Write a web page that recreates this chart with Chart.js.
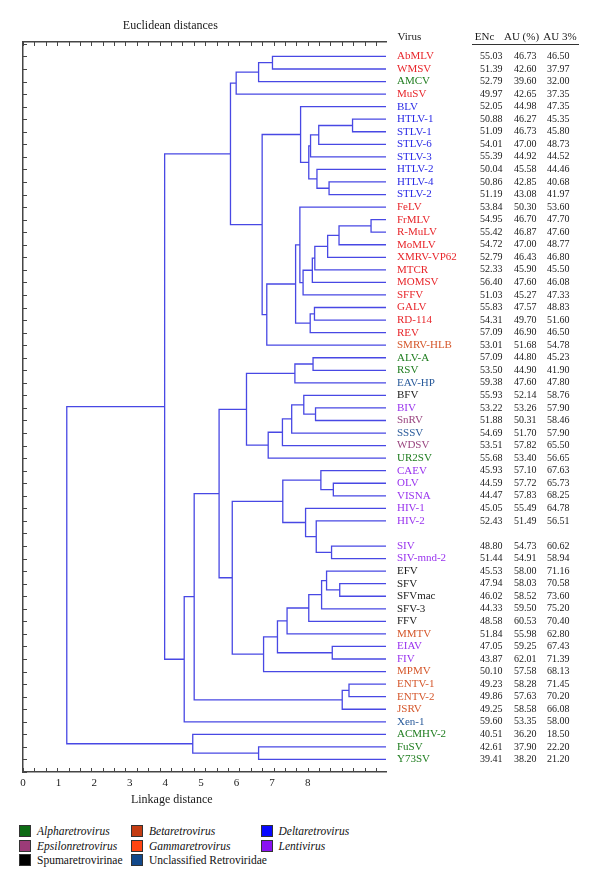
<!DOCTYPE html>
<html>
<head>
<meta charset="utf-8">
<script src="https://cdn.jsdelivr.net/npm/chart.js@4.4.0/dist/chart.umd.min.js"></script>
<style>
  html, body { margin: 0; padding: 0; background: #fff; }
  #wrap { position: relative; width: 600px; height: 890px; }
  #chartBox { position: absolute; left: 0; top: 0; width: 600px; height: 812px; }
  #legend { position: absolute; left: 0; top: 824px; width: 600px; height: 50px;
            font-family: "Liberation Serif", serif; font-size: 11.5px; color: #111; }
  .item { position: absolute; height: 14px; line-height: 14px; white-space: nowrap; }
  .item i { font-style: italic; }
  .sw { display: inline-block; width: 10px; height: 10px; border: 1px solid #333;
        vertical-align: -2px; margin-right: 6px; }
</style>
</head>
<body>
<div id="wrap">
  <div id="chartBox"><canvas id="tree"></canvas></div>
  <div id="legend"></div>
</div>
<script>
// leaves, top to bottom
const viruses = ['AbMLV', 'WMSV', 'AMCV', 'MuSV', 'BLV', 'HTLV-1', 'STLV-1', 'STLV-6', 'STLV-3',
  'HTLV-2', 'HTLV-4', 'STLV-2', 'FeLV', 'FrMLV', 'R-MuLV', 'MoMLV', 'XMRV-VP62', 'MTCR', 'MOMSV',
  'SFFV', 'GALV', 'RD-114', 'REV', 'SMRV-HLB', 'ALV-A', 'RSV', 'EAV-HP', 'BFV', 'BIV', 'SnRV',
  'SSSV', 'WDSV', 'UR2SV', 'CAEV', 'OLV', 'VISNA', 'HIV-1', 'HIV-2', 'SIV', 'SIV-mnd-2', 'EFV',
  'SFV', 'SFVmac', 'SFV-3', 'FFV', 'MMTV', 'EIAV', 'FIV', 'MPMV', 'ENTV-1', 'ENTV-2', 'JSRV',
  'Xen-1', 'ACMHV-2', 'FuSV', 'Y73SV'];

// row of each leaf (row 38 is left empty in the figure)
const rows = [0, 1, 2, 3, 4, 5, 6, 7, 8, 9, 10, 11, 12, 13, 14, 15, 16, 17, 18, 19, 20, 21, 22,
  23, 24, 25, 26, 27, 28, 29, 30, 31, 32, 33, 34, 35, 36, 37, 39, 40, 41, 42, 43, 44, 45, 46, 47,
  48, 49, 50, 51, 52, 53, 54, 55, 56];

const families = ['gamma', 'gamma', 'alpha', 'gamma', 'delta', 'delta', 'delta', 'delta', 'delta',
  'delta', 'delta', 'delta', 'gamma', 'gamma', 'gamma', 'gamma', 'gamma', 'gamma', 'gamma',
  'gamma', 'gamma', 'gamma', 'gamma', 'beta', 'alpha', 'alpha', 'uncl', 'spuma', 'lenti', 'epsilon',
  'uncl', 'epsilon', 'alpha', 'lenti', 'lenti', 'lenti', 'lenti', 'lenti', 'lenti', 'lenti', 'spuma',
  'spuma', 'spuma', 'spuma', 'spuma', 'beta', 'lenti', 'lenti', 'beta', 'beta', 'beta', 'beta',
  'uncl', 'alpha', 'alpha', 'alpha'];

const encValues = [55.03, 51.39, 52.79, 49.97, 52.05, 50.88, 51.09, 54.01, 55.39, 50.04, 50.86,
  51.19, 53.84, 54.95, 55.42, 54.72, 52.79, 52.33, 56.40, 51.03, 55.83, 54.31, 57.09, 53.01, 57.09,
  53.50, 59.38, 55.93, 53.22, 51.88, 54.69, 53.51, 55.68, 45.93, 44.59, 44.47, 45.05, 52.43, 48.80,
  51.44, 45.53, 47.94, 46.02, 44.33, 48.58, 51.84, 47.05, 43.87, 50.10, 49.23, 49.86, 49.25, 59.60,
  40.51, 42.61, 39.41];

const auValues = [46.73, 42.60, 39.60, 42.65, 44.98, 46.27, 46.73, 47.00, 44.92, 45.58, 42.85,
  43.08, 50.30, 46.70, 46.87, 47.00, 46.43, 45.90, 47.60, 45.27, 47.57, 49.70, 46.90, 51.68, 44.80,
  44.90, 47.60, 52.14, 53.26, 50.31, 51.70, 57.82, 53.40, 57.10, 57.72, 57.83, 55.49, 51.49, 54.73,
  54.91, 58.00, 58.03, 58.52, 59.50, 60.53, 55.98, 59.25, 62.01, 57.58, 58.28, 57.63, 58.58, 53.35,
  36.20, 37.90, 38.20];

const au3Values = [46.50, 37.97, 32.00, 37.35, 47.35, 45.35, 45.80, 48.73, 44.52, 44.46, 40.68,
  41.97, 53.60, 47.70, 47.60, 48.77, 46.80, 45.50, 46.08, 47.33, 48.83, 51.60, 46.50, 54.78, 45.23,
  41.90, 47.80, 58.76, 57.90, 58.46, 57.90, 65.50, 56.65, 67.63, 65.73, 68.25, 64.78, 56.51, 60.62,
  58.94, 71.16, 70.58, 73.60, 75.20, 70.40, 62.80, 67.43, 71.39, 68.13, 71.45, 70.20, 66.08, 58.00,
  18.50, 22.20, 21.20];

// cluster joins: [child, child, linkage position]; '#k' refers to join k
const merges = [
  ['AbMLV', 'WMSV', 7.01], ['#0', 'AMCV', 6.62], ['#1', 'MuSV', 5.99],
  ['HTLV-1', 'STLV-1', 9.26], ['#3', 'STLV-6', 8.31], ['#4', 'STLV-3', 8.08],
  ['HTLV-4', 'STLV-2', 8.60], ['HTLV-2', '#6', 8.26], ['#5', '#7', 8.03], ['BLV', '#8', 7.80],
  ['FrMLV', 'R-MuLV', 9.78], ['#10', 'MoMLV', 8.88], ['#11', 'XMRV-VP62', 8.56],
  ['#12', 'MTCR', 8.20], ['#13', 'MOMSV', 8.13], ['#14', 'SFFV', 7.87], ['FeLV', '#15', 7.78],
  ['GALV', 'RD-114', 8.19], ['#17', 'REV', 8.07], ['#16', '#18', 7.66], ['#19', 'SMRV-HLB', 6.85],
  ['#9', '#20', 6.72], ['#2', '#21', 5.83],
  ['ALV-A', 'RSV', 8.15], ['#23', 'EAV-HP', 7.64],
  ['BIV', 'SnRV', 8.22], ['BFV', '#25', 7.89], ['#26', 'SSSV', 7.55], ['#27', 'WDSV', 7.29],
  ['#28', 'UR2SV', 6.89], ['#24', '#29', 6.28],
  ['OLV', 'VISNA', 8.72], ['CAEV', '#31', 8.37], ['SIV', 'SIV-mnd-2', 8.67], ['HIV-2', '#33', 8.24],
  ['HIV-1', '#34', 7.94], ['#32', '#35', 7.30],
  ['SFV', 'SFVmac', 8.90], ['EFV', '#37', 8.53], ['#38', 'SFV-3', 8.39], ['#39', 'FFV', 8.03],
  ['#40', 'MMTV', 7.42], ['EIAV', 'FIV', 8.69], ['#41', '#42', 7.15], ['#43', 'MPMV', 6.76],
  ['#36', '#44', 5.88], ['#30', '#45', 5.51],
  ['ENTV-1', 'ENTV-2', 9.16], ['#47', 'JSRV', 8.97], ['#46', '#48', 4.81], ['#49', 'Xen-1', 4.53],
  ['#22', '#50', 3.98],
  ['FuSV', 'Y73SV', 6.62], ['ACMHV-2', '#52', 4.77],
  ['#51', '#53', 1.23]
];

const xTickLabels = [0, 1, 2, 3, 4, 5, 6, 7, 8];

const textColors = {
  alpha: '#1f7d1f', beta: '#d5572b', gamma: '#e8262b', delta: '#2a2ae6',
  epsilon: '#99457f', lenti: '#9933ee', spuma: '#1a1a1a', uncl: '#2a5b9b'
};

const legendItems = [
  {label: 'Alpharetrovirus', color: '#0d6b14', italic: true, col: 0, row: 0},
  {label: 'Epsilonretrovirus', color: '#9c3b78', italic: true, col: 0, row: 1},
  {label: 'Spumaretrovirinae', color: '#000000', italic: false, col: 0, row: 2},
  {label: 'Betaretrovirus', color: '#c43c12', italic: true, col: 1, row: 0},
  {label: 'Gammaretrovirus', color: '#ff4512', italic: true, col: 1, row: 1},
  {label: 'Unclassified Retroviridae', color: '#12488a', italic: false, col: 1, row: 2},
  {label: 'Deltaretrovirus', color: '#0808ff', italic: true, col: 2, row: 0},
  {label: 'Lentivirus', color: '#8a12f0', italic: true, col: 2, row: 1}
];

const X_MAX = 10.2;
const Y_MIN = -1.15;
const Y_MAX = 57;
const SERIF = '"Liberation Serif", "DejaVu Serif", serif';
const AXIS_COLOR = '#454545';

// build the elbow lines of the tree
const nodeX = [];
const nodeY = [];
function nodePos(ref) {
  if (ref[0] === '#') {
    const k = +ref.slice(1);
    return [nodeX[k], nodeY[k]];
  }
  return [X_MAX, rows[viruses.indexOf(ref)]];
}
const treePoints = [];
merges.forEach(([a, b, h], k) => {
  const pa = nodePos(a);
  const pb = nodePos(b);
  nodeX[k] = h;
  nodeY[k] = (pa[1] + pb[1]) / 2;
  treePoints.push({x: pa[0], y: pa[1]}, {x: h, y: pa[1]}, {x: h, y: pb[1]},
                  {x: pb[0], y: pb[1]}, {x: NaN, y: NaN});
});

function minorTicks(scale) {
  const t = [];
  for (let k = 0; k * 0.32 <= X_MAX - 0.2; k++) t.push({value: k * 0.32});
  scale.ticks = t;
}

function tableAxis(weight, width, padding, fmt, size, colorFn) {
  return {
    type: 'linear', axis: 'y', position: 'right', weight: weight,
    reverse: true, min: Y_MIN, max: Y_MAX,
    grid: {display: false, drawTicks: false}, border: {display: false},
    afterBuildTicks: s => { s.ticks = rows.map(r => ({value: r})); },
    afterFit: s => { s.width = width; },
    ticks: {
      autoSkip: false, padding: padding,
      font: {family: SERIF, size: size},
      color: colorFn,
      callback: (v, i) => fmt(i)
    }
  };
}

// short tick marks pointing into the plot, on the frame's top, bottom and left side
const innerTicks = {
  id: 'innerTicks',
  afterDraw(chart) {
    const {ctx, chartArea: a, scales} = chart;
    ctx.save();
    ctx.strokeStyle = AXIS_COLOR;
    ctx.lineWidth = 1;
    ctx.beginPath();
    scales.x.ticks.forEach(t => {
      const px = Math.round(scales.x.getPixelForValue(t.value)) + 0.5;
      ctx.moveTo(px, a.bottom);
      ctx.lineTo(px, a.bottom - 4);
    });
    scales.xtop.ticks.forEach(t => {
      const px = Math.round(scales.xtop.getPixelForValue(t.value)) + 0.5;
      ctx.moveTo(px, a.top);
      ctx.lineTo(px, a.top + 4);
    });
    scales.y.ticks.forEach(t => {
      const py = Math.round(scales.y.getPixelForValue(t.value)) + 0.5;
      ctx.moveTo(a.left, py);
      ctx.lineTo(a.left + 4, py);
    });
    ctx.stroke();
    ctx.restore();
  }
};

const textPlugin = {
  id: 'texts',
  afterDraw(chart) {
    const {ctx, scales} = chart;
    ctx.save();
    ctx.fillStyle = '#1a1a1a';
    ctx.font = '12px ' + SERIF;
    ctx.textBaseline = 'middle';
    ctx.textAlign = 'center';
    ctx.fillText('Euclidean distances', scales.xtop.getPixelForValue(4.14), 26);
    ctx.fillText('Linkage distance', scales.xl.getPixelForValue(4.18), 800);

    ctx.font = '11px ' + SERIF;
    ctx.textAlign = 'left';
    ctx.fillText('Virus', scales.yn.left + 11.5, 37);
    ctx.textAlign = 'center';
    ctx.fillText('ENc', scales.ye.left + 7.5, 37);
    ctx.fillText('AU (%)', scales.ya.left + 10.5, 37);
    ctx.fillText('AU 3%', scales.yb.left + 16, 37);

    ctx.strokeStyle = '#333';
    ctx.lineWidth = 1;
    ctx.beginPath();
    ctx.moveTo(scales.ye.left - 5, 44.5);
    ctx.lineTo(scales.yb.left + 35, 44.5);
    ctx.stroke();
    ctx.restore();
  }
};

const frameAxis = {
  grid: {display: false, drawTicks: false},
  border: {display: true, color: AXIS_COLOR, width: 1.5},
  ticks: {display: false}
};

new Chart(document.getElementById('tree'), {
  type: 'scatter',
  data: {
    datasets: [{
      data: treePoints,
      showLine: true,
      spanGaps: false,
      borderColor: '#4848e4',
      borderWidth: 1.3,
      pointRadius: 0,
      clip: 4,
      xAxisID: 'x',
      yAxisID: 'y'
    }]
  },
  options: {
    responsive: true,
    maintainAspectRatio: false,
    animation: false,
    layout: {padding: {left: 23, top: 42, right: 0, bottom: 10}},
    plugins: {legend: {display: false}, tooltip: {enabled: false}, title: {display: false}},
    scales: {
      x: {
        ...frameAxis,
        type: 'linear', position: 'bottom', weight: 0, min: 0, max: X_MAX,
        afterBuildTicks: minorTicks,
        afterFit: s => { s.height = 0; }
      },
      xl: {
        type: 'linear', axis: 'x', position: 'bottom', weight: 1, min: 0, max: X_MAX,
        afterBuildTicks: s => { s.ticks = xTickLabels.map(v => ({value: v})); },
        afterFit: s => { s.height = 30; },
        grid: {display: false, drawTicks: false}, border: {display: false},
        ticks: {autoSkip: false, maxRotation: 0, padding: 5, color: '#1a1a1a',
                font: {family: SERIF, size: 11}, callback: v => String(v)}
      },
      xtop: {
        ...frameAxis,
        type: 'linear', axis: 'x', position: 'top', min: 0, max: X_MAX,
        afterBuildTicks: minorTicks,
        afterFit: s => { s.height = 0; }
      },
      y: {
        ...frameAxis,
        type: 'linear', position: 'left', reverse: true, min: Y_MIN, max: Y_MAX,
        afterBuildTicks: s => {
          const t = [];
          for (let r = -1; r <= 57; r++) t.push({value: r});
          s.ticks = t;
        },
        afterFit: s => { s.width = 0; }
      },
      yn: tableAxis(0, 91, 11, i => viruses[i], 11, c => textColors[families[c.index]]),
      ye: tableAxis(1, 34, 3, i => encValues[i].toFixed(2), 10, '#1a1a1a'),
      ya: tableAxis(2, 33, 3, i => auValues[i].toFixed(2), 10, '#1a1a1a'),
      yb: tableAxis(3, 56, 3, i => au3Values[i].toFixed(2), 10, '#1a1a1a')
    }
  },
  plugins: [innerTicks, textPlugin]
});

// legend below the chart
const colLeft = [19, 131, 260.5];
const legend = document.getElementById('legend');
legendItems.forEach(it => {
  const d = document.createElement('div');
  d.className = 'item';
  d.style.left = colLeft[it.col] + 'px';
  d.style.top = (it.row * 14.7) + 'px';
  const sw = '<span class="sw" style="background:' + it.color + '"></span>';
  d.innerHTML = sw + (it.italic ? '<i>' + it.label + '</i>' : it.label);
  legend.appendChild(d);
});
</script>
</body>
</html>
